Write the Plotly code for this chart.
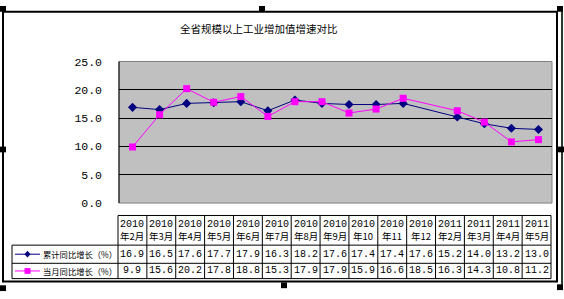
import plotly.graph_objects as go

W, H = 564, 299

title = "全省规模以上工业增加值增速对比"
months = ["2010\n年2月", "2010\n年3月", "2010\n年4月", "2010\n年5月", "2010\n年6月",
          "2010\n年7月", "2010\n年8月", "2010\n年9月", "2010\n年10", "2010\n年11",
          "2010\n年12", "2011\n年2月", "2011\n年3月", "2011\n年4月", "2011\n年5月"]
# full category axis (January 2011 has no data)
categories = months[:11] + ["2011\n年1月"] + months[11:]
series_names = ["累计同比增长（%）", "当月同比增长（%）"]
cumulative = [16.9, 16.5, 17.6, 17.7, 17.9, 16.3, 18.2, 17.6, 17.4, 17.4, 17.6, 15.2, 14.0, 13.2, 13.0]
monthly = [9.9, 15.6, 20.2, 17.8, 18.8, 15.3, 17.9, 17.9, 15.9, 16.6, 18.5, 16.3, 14.3, 10.8, 11.2]
series_values = [cumulative, monthly]
series_colors = ["#000080", "#FF00FF"]
series_symbols = ["diamond", "square"]
y_ticks = [0, 5, 10, 15, 20, 25]

def px(x):
    return x / W

def py(y):
    return 1 - y / H

FONT = "Noto Sans CJK SC"
NUMFONT = "Liberation Mono, Noto Sans CJK SC"

fig = go.Figure()
for name, vals, col, sym in zip(series_names, series_values, series_colors, series_symbols):
    fig.add_trace(go.Scatter(
        x=months, y=vals, mode="lines+markers", name=name,
        line=dict(color=col, width=1),
        marker=dict(color=col, symbol=sym, size=7, line=dict(width=0)),
        showlegend=False, cliponaxis=False))

# plot area pixels
PL, PR, PT, PB = 119, 552, 58, 206

shapes = []
annotations = []

shapes.append(dict(type="rect", xref="paper", yref="paper", x0=px(PL), x1=px(PR), y0=py(PB), y1=py(PT),
                   line=dict(color="#808080", width=1), fillcolor="rgba(0,0,0,0)", layer="below"))
shapes.append(dict(type="line", xref="paper", yref="paper", x0=px(PL), x1=px(PL), y0=py(PB), y1=py(PT),
                   line=dict(color="#000000", width=1), layer="below"))

# table geometry
TL, TR = 118, 551
LEG_L = 12
TT, HB, R1B, R2B = 219, 250, 269, 285
ncol = len(months)
cw = (TR - TL) / ncol
blk = dict(color="#000000", width=1)
shapes.append(dict(type="line", xref="paper", yref="paper", x0=px(TL), x1=px(TR), y0=py(TT), y1=py(TT), line=blk))
for yy in [HB, R1B, R2B]:
    shapes.append(dict(type="line", xref="paper", yref="paper", x0=px(LEG_L), x1=px(TR), y0=py(yy), y1=py(yy), line=blk))
for i in range(ncol + 1):
    x = TL + i * cw
    shapes.append(dict(type="line", xref="paper", yref="paper", x0=px(x), x1=px(x), y0=py(R2B), y1=py(TT), line=blk))
shapes.append(dict(type="line", xref="paper", yref="paper", x0=px(LEG_L), x1=px(LEG_L), y0=py(R2B), y1=py(HB), line=blk))

for i, m in enumerate(months):
    cx = TL + (i + 0.5) * cw
    top, bot = m.split("\n")
    annotations.append(dict(x=px(cx), y=py(228), xref="paper", yref="paper", text=top, showarrow=False,
                            font=dict(family=NUMFONT, size=10, color="#000"), xanchor="center", yanchor="middle"))
    annotations.append(dict(x=px(cx), y=py(240), xref="paper", yref="paper", text=bot, showarrow=False,
                            font=dict(family=FONT, size=9.5, color="#000"), xanchor="center", yanchor="middle"))
row_mid = [(HB + R1B) / 2, (R1B + R2B) / 2]
for r, vals in enumerate(series_values):
    for i, v in enumerate(vals):
        cx = TL + (i + 0.5) * cw
        annotations.append(dict(x=px(cx), y=py(row_mid[r]), xref="paper", yref="paper", text=f"{v:.1f}",
                                showarrow=False, font=dict(family=NUMFONT, size=10, color="#000"),
                                xanchor="center", yanchor="middle"))
    ym = py(row_mid[r])
    shapes.append(dict(type="line", xref="paper", yref="paper", x0=px(15), x1=px(40), y0=ym, y1=ym,
                       line=dict(color=series_colors[r], width=1)))
    annotations.append(dict(x=px(41), y=ym, xref="paper", yref="paper", text=series_names[r], showarrow=False,
                            font=dict(family=FONT, size=8.3, color="#000"), xanchor="left", yanchor="middle"))

yc = row_mid[0]
shapes.append(dict(type="path", xref="paper", yref="paper",
                   path=f"M {px(24.5)} {py(yc)} L {px(27.5)} {py(yc-3.5)} L {px(30.5)} {py(yc)} L {px(27.5)} {py(yc+3.5)} Z",
                   fillcolor=series_colors[0], line=dict(width=0)))
yc = row_mid[1]
shapes.append(dict(type="rect", xref="paper", yref="paper", x0=px(24.5), x1=px(30.5), y0=py(yc + 3), y1=py(yc - 3),
                   fillcolor=series_colors[1], line=dict(width=0)))

# outer frame
shapes.append(dict(type="rect", xref="paper", yref="paper", x0=px(3), x1=px(557), y0=py(288), y1=py(6),
                   line=dict(color="#000000", width=2), fillcolor="rgba(0,0,0,0)"))
shapes.append(dict(type="line", xref="paper", yref="paper", x0=px(562), x1=px(562), y0=py(296), y1=py(4),
                   line=dict(color="#2a3a2a", width=2)))
for (hx, hy) in [(0, 0), (259, 0), (557, 0), (0, 147), (558, 147), (0, 292), (281, 289), (557, 291)]:
    shapes.append(dict(type="rect", xref="paper", yref="paper", x0=px(hx), x1=px(hx + 6), y0=py(hy + 6), y1=py(hy),
                       line=dict(width=0), fillcolor="#000000"))

annotations.append(dict(x=px(259), y=py(24), xref="paper", yref="paper", text=title, showarrow=False,
                        font=dict(family=FONT, size=10.5, color="#000"), xanchor="center", yanchor="middle"))

fig.update_layout(
    width=W, height=H, margin=dict(l=0, r=0, t=0, b=0),
    paper_bgcolor="#FFFFFF", plot_bgcolor="#C0C0C0",
    xaxis=dict(domain=[px(PL), px(PR)], type="category", categoryorder="array", categoryarray=categories,
               range=[-0.5, len(categories) - 0.5], showticklabels=False, showgrid=False, zeroline=False,
               showline=False, fixedrange=True),
    yaxis=dict(domain=[py(PB), py(PT)], range=[0, 25], tickvals=y_ticks,
               ticktext=[f"{t:.1f}" for t in y_ticks], showgrid=True, gridcolor="#000000", gridwidth=1,
               zeroline=False, showline=False, ticks="", ticklabelstandoff=16,
               tickfont=dict(family=NUMFONT, size=11.5, color="#000")),
    shapes=shapes, annotations=annotations,
)

fig.write_html("out.html")
